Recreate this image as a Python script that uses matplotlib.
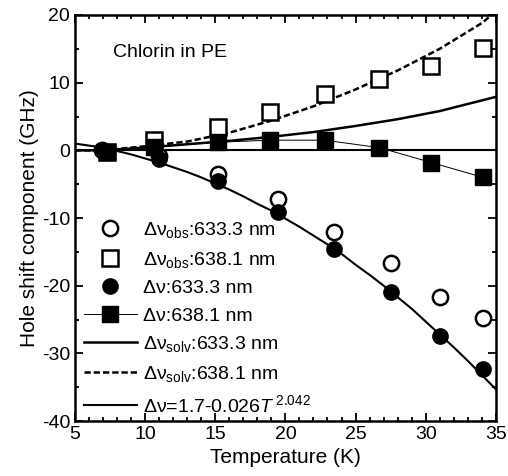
import numpy as np
import matplotlib.pyplot as plt
from matplotlib.ticker import MultipleLocator

plt.rcParams['font.family'] = ['Liberation Sans', 'DejaVu Sans']
plt.rcParams['mathtext.fontset'] = 'custom'
plt.rcParams['mathtext.rm'] = 'Liberation Sans'
plt.rcParams['mathtext.it'] = 'Liberation Sans:italic'
plt.rcParams['axes.unicode_minus'] = False

# measured points
T_633 = [6.9, 11.0, 15.2, 19.5, 23.5, 27.5, 31.0, 34.1]
obs_633 = [0.0, -0.9, -3.5, -7.2, -12.0, -16.6, -21.6, -24.8]
dv_633 = [0.0, -1.3, -4.5, -9.1, -14.6, -21.0, -27.4, -32.3]

T_638 = [7.3, 10.6, 15.2, 18.9, 22.8, 26.7, 30.4, 34.1]
obs_638 = [-0.2, 1.5, 3.5, 5.6, 8.3, 10.6, 12.4, 15.1]
dv_638 = [-0.2, 0.5, 1.2, 1.5, 1.5, 0.4, -1.8, -4.0]

# curves
T_solv = [5, 7, 10, 13, 16, 19, 22, 25, 28, 31, 35]
solv_633 = [0.0, 0.0, 0.4, 0.9, 1.4, 2.0, 2.7, 3.6, 4.6, 5.8, 7.9]
T_solv2 = [5, 7, 10, 13, 16, 19, 22, 25, 28, 31, 34, 34.7]
solv_638 = [0.0, 0.0, 0.6, 1.3, 2.6, 4.4, 6.5, 9.0, 11.8, 15.0, 18.8, 20.0]

T_fit = [5, 6, 7, 8, 9, 10, 11, 12, 13, 14, 15, 16, 17, 18, 19, 20, 21, 22, 23, 24,
         25, 26, 27, 28, 29, 30, 31, 32, 33, 34, 35]
fit = [1.0, 0.7, 0.4, -0.1, -0.6, -1.2, -1.8, -2.5, -3.2, -4.0, -4.9, -5.8, -6.8,
       -7.9, -8.9, -10.1, -11.3, -12.6, -13.9, -15.3, -16.9, -18.4, -20.0, -21.7,
       -23.4, -25.3, -27.2, -29.1, -31.1, -33.2, -35.3]

fig = plt.figure(figsize=(5.08, 4.76), dpi=100)
ax = fig.add_axes([0.1476, 0.1155, 0.8284, 0.853])

ms = 11
ax.axhline(0, color='black', lw=1.5, zorder=1)
ax.plot(T_633, obs_633, 'o', mfc='white', mec='black', mew=1.8, ms=ms,
        label=r'Δν$_{\rm obs}$:633.3 nm', zorder=3)
ax.plot(T_638, obs_638, 's', mfc='white', mec='black', mew=1.8, ms=ms,
        label=r'Δν$_{\rm obs}$:638.1 nm', zorder=3)
ax.plot(T_633, dv_633, 'o', color='black', ms=ms, label='Δν:633.3 nm', zorder=4)
ax.plot(T_638, dv_638, 's-', color='black', lw=0.7, ms=ms, label='Δν:638.1 nm', zorder=4)
ax.plot(T_solv, solv_633, '-', color='black', lw=1.8, label=r'Δν$_{\rm solv}$:633.3 nm', zorder=2)
ax.plot(T_solv2, solv_638, '--', color='black', lw=1.8, dashes=(2.5, 1.2),
        label=r'Δν$_{\rm solv}$:638.1 nm', zorder=2)
ax.plot(T_fit, fit, '-', color='black', lw=1.5, label=r'Δν=1.7-0.026$T$$^{\ 2.042}$', zorder=2)

ax.text(7.7, 14.5, 'Chlorin in PE', fontsize=14, va='center')

ax.set_xlim(5, 35)
ax.set_ylim(-40, 20)
ax.xaxis.set_major_locator(MultipleLocator(5))
ax.xaxis.set_minor_locator(MultipleLocator(1))
ax.yaxis.set_major_locator(MultipleLocator(10))
ax.yaxis.set_minor_locator(MultipleLocator(5))
ax.tick_params(which='both', direction='in', top=True, right=True, labelsize=14, width=1.3)
ax.tick_params(which='major', length=6)
ax.tick_params(which='minor', length=3)
for s in ax.spines.values():
    s.set_linewidth(1.8)

ax.set_xlabel('Temperature (K)', fontsize=15, labelpad=4)
ax.set_ylabel('Hole shift component (GHz)', fontsize=15, labelpad=2)

ax.legend(loc='lower left', bbox_to_anchor=(-0.015, -0.025), frameon=False, fontsize=14,
          handlelength=2.7, handletextpad=0.3, labelspacing=0.5, borderaxespad=0.4)

plt.savefig('out.png', dpi=100)
